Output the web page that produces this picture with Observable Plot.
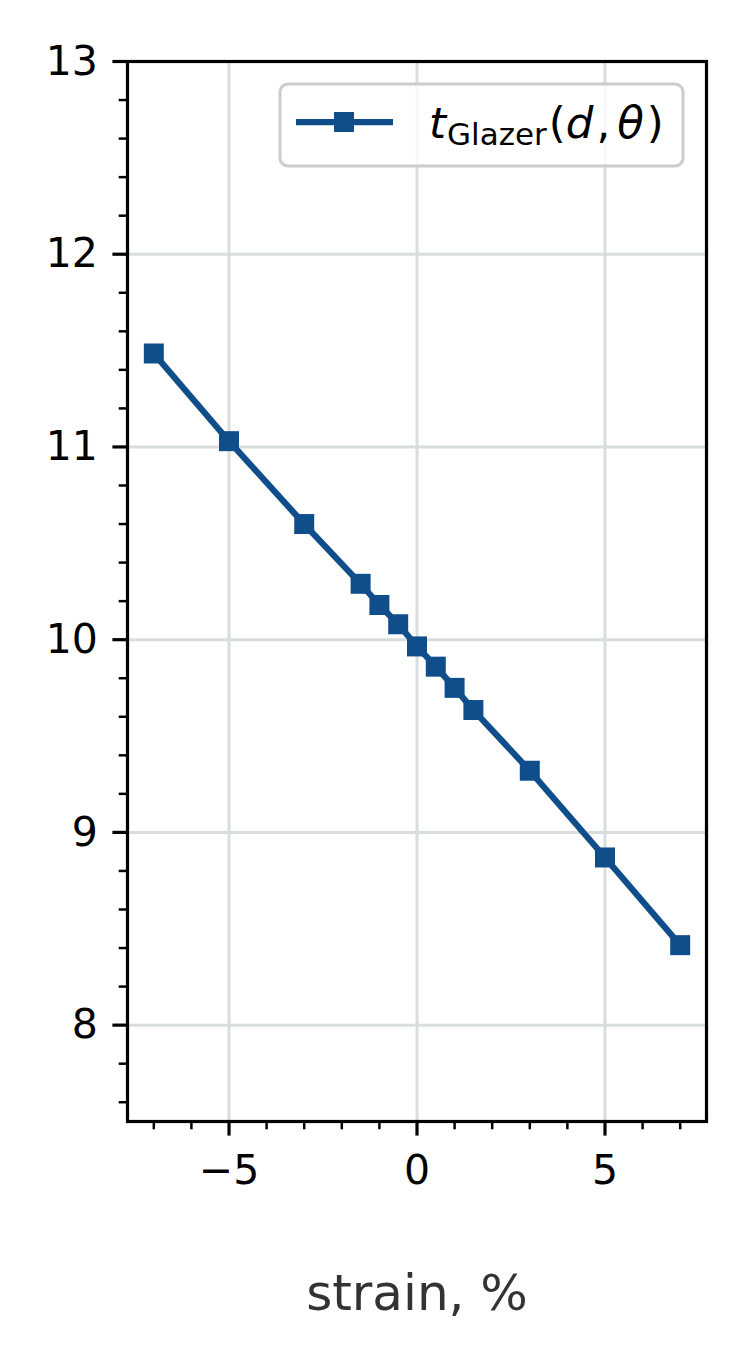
<!DOCTYPE html>
<html><head><meta charset="utf-8">
<script src="https://cdn.jsdelivr.net/npm/d3@7"></script>
<script src="https://cdn.jsdelivr.net/npm/@observablehq/plot@0.6"></script>
<style>body{margin:0;background:#fff}</style>
</head><body><div id="chart"></div>
<script>
// Data
const strain = [-7, -5, -3, -1.5, -1, -0.5, 0, 0.5, 1, 1.5, 3, 5, 7];
const tGlazer = [11.485, 11.03, 10.60, 10.29, 10.18, 10.08, 9.965, 9.86, 9.75, 9.635, 9.32, 8.87, 8.415];
// Ticks
const xMajor = [-5, 0, 5];
const xMinor = [-7, -6, -4, -3, -2, -1, 1, 2, 3, 4, 6, 7];
const yMajor = [8, 9, 10, 11, 12, 13];
const yMinor = [7.6, 7.8, 8.2, 8.4, 8.6, 8.8, 9.2, 9.4, 9.6, 9.8, 10.2, 10.4, 10.6, 10.8,
                11.2, 11.4, 11.6, 11.8, 12.2, 12.4, 12.6, 12.8];
const xLabel = "strain, %";

const color = "#104e8b";
const data = strain.map((s, i) => ({strain: s, t: tGlazer[i]}));
const fmt = d => d < 0 ? "\u2212" + Math.abs(d) : String(d);

const chart = Plot.plot({
  width: 750,
  height: 1350,
  marginTop: 61,
  marginLeft: 127,
  marginRight: 44,
  marginBottom: 229,
  style: {fontFamily: "DejaVu Sans", background: "white", color: "black"},
  x: {domain: [-7.7, 7.7]},
  y: {domain: [7.5, 13]},
  marks: [
    Plot.gridX(xMajor, {stroke: "#d8dede", strokeOpacity: 1, strokeWidth: 3}),
    Plot.gridY(yMajor, {stroke: "#d8dede", strokeOpacity: 1, strokeWidth: 3}),
    Plot.line(data, {x: "strain", y: "t", stroke: color, strokeWidth: 6.25}),
    Plot.dot(data, {x: "strain", y: "t", symbol: "square", r: 11.28, fill: color, stroke: null}),
    Plot.frame({stroke: "black", strokeWidth: 3.2}),
    Plot.axisX(xMajor, {tickSize: 14.6, tickPadding: 19, strokeWidth: 3.2, fontSize: 41, tickFormat: fmt, label: null}),
    Plot.axisX(xMinor, {tickSize: 8.3, strokeWidth: 2.5, tickFormat: () => "", label: null}),
    Plot.axisY(yMajor, {tickSize: 14.6, tickPadding: 15, strokeWidth: 3.2, fontSize: 41, tickFormat: fmt, label: null}),
    Plot.axisY(yMinor, {tickSize: 8.3, strokeWidth: 2.5, tickFormat: () => "", label: null}),
    Plot.text([xLabel], {text: d => d, frameAnchor: "bottom", lineAnchor: "bottom", dy: 188, fontSize: 50, fill: "#333333"})
  ]
});
document.getElementById("chart").appendChild(chart);

// Legend (matplotlib-style box)
const svg = d3.select(chart);
const lg = svg.append("g").attr("font-family", "DejaVu Sans").attr("text-anchor", "start");
lg.append("rect").attr("x", 280).attr("y", 84).attr("width", 403).attr("height", 82)
  .attr("rx", 8).attr("fill", "white").attr("fill-opacity", 0.8)
  .attr("stroke", "#cccccc").attr("stroke-width", 3);
lg.append("line").attr("x1", 296).attr("x2", 393).attr("y1", 122).attr("y2", 122)
  .attr("stroke", color).attr("stroke-width", 6.25);
lg.append("rect").attr("x", 334).attr("y", 112).attr("width", 20).attr("height", 20).attr("fill", color);
const tx = lg.append("text").attr("x", 429).attr("y", 138).attr("font-size", 43.5)
  .attr("fill", "black").attr("text-anchor", "start");
tx.append("tspan").attr("font-style", "italic").text("t");
tx.append("tspan").attr("font-size", 31).attr("dy", 7).attr("dx", 1).text("Glazer");
tx.append("tspan").attr("dy", -7).attr("dx", 2).text("(");
tx.append("tspan").attr("font-style", "italic").text("d");
tx.append("tspan").attr("dx", 3).text(",");
tx.append("tspan").attr("font-style", "italic").attr("dx", 7).text("\u03b8");
tx.append("tspan").attr("dx", 3).text(")");
</script>
</body></html>
